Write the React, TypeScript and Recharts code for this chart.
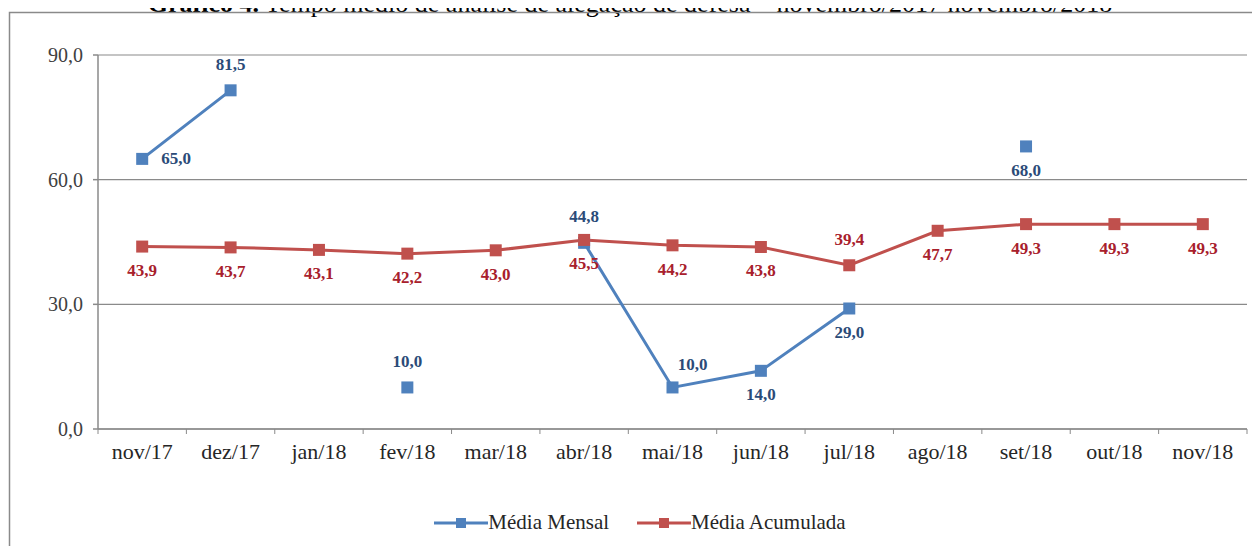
import React from 'react'
import { LineChart, Line, XAxis, YAxis, CartesianGrid, LabelList } from 'recharts'

const months = ['nov/17', 'dez/17', 'jan/18', 'fev/18', 'mar/18', 'abr/18', 'mai/18', 'jun/18', 'jul/18', 'ago/18', 'set/18', 'out/18', 'nov/18']
const mensal = [65.0, 81.5, null, 10.0, null, 44.8, 10.0, 14.0, 29.0, null, 68.0, null, null]
const acumulada = [43.9, 43.7, 43.1, 42.2, 43.0, 45.5, 44.2, 43.8, 39.4, 47.7, 49.3, 49.3, 49.3]
const yTicks = [0, 30, 60, 90]

// where each value label sits relative to its marker
const mensalPos = ['right', 'above', '', 'above', '', 'above', 'aboveRight', 'below', 'below', '', 'below', '', '']
const acumPos = ['below', 'below', 'below', 'below', 'below', 'below', 'below', 'below', 'above', 'below', 'below', 'below', 'below']

const data = months.map((m, i) => ({ month: m, mensal: mensal[i], acumulada: acumulada[i] }))

const FONT = '"Liberation Serif", "Times New Roman", Times, serif'
const BLUE = '#4F81BD'
const RED = '#C0504D'
const GRID = '#8a8a8a'
const W = 1260
const H = 554
const LEFT = 98
const RIGHT = 13
const BAND = (W - LEFT - RIGHT) / months.length

const fmt = (v: number) => v.toFixed(1).replace('.', ',')

const squareDot = (fill: string, size: number) => (props: any) => {
  const { cx, cy, value, index } = props
  if (value == null || cx == null || cy == null) return <g key={index} />
  return <rect key={index} x={cx - size / 2} y={cy - size / 2} width={size} height={size} fill={fill} />
}

const makeLabel = (pos: string[], color: string) => (props: any) => {
  const { x, y, value, index } = props
  if (value == null || !pos[index]) return null
  let dx = 0
  let dy = 0
  let anchor: 'start' | 'middle' = 'middle'
  switch (pos[index]) {
    case 'right': dx = 19; dy = 0; anchor = 'start'; break
    case 'above': dy = -26; break
    case 'aboveRight': dx = 20; dy = -23; break
    case 'below': dy = 24; break
  }
  return (
    <text x={x + dx} y={y + dy} textAnchor={anchor} dominantBaseline="central"
      fill={color} fontSize={17} fontWeight="bold" fontFamily={FONT}>
      {fmt(value)}
    </text>
  )
}

const XTick = (props: any) => {
  const { x, y, payload, index } = props
  return (
    <g>
      <line x1={x + BAND / 2} x2={x + BAND / 2} y1={y - 8} y2={y - 3} stroke={GRID} />
      {index === 0 && <line x1={x - BAND / 2} x2={x - BAND / 2} y1={y - 8} y2={y - 3} stroke={GRID} />}
      <text x={x} y={y + 22} textAnchor="middle" fill="#262626" fontSize={22} fontFamily={FONT}>{payload.value}</text>
    </g>
  )
}

const LegendItem = ({ color, label }: { color: string; label: string }) => (
  <div style={{ display: 'flex', alignItems: 'center' }}>
    <svg width={54} height={14}>
      <line x1={0} x2={54} y1={7} y2={7} stroke={color} strokeWidth={3} />
      <rect x={22} y={2} width={10} height={10} fill={color} />
    </svg>
    <span style={{ fontSize: 21, color: '#262626', fontFamily: FONT }}>{label}</span>
  </div>
)

export default function App() {
  return (
    <div style={{ position: 'relative', margin: -8, width: W, height: H, overflow: 'hidden', background: '#fff', fontFamily: FONT }}>
      <div style={{ position: 'absolute', left: 0, top: 0 }}>
        <LineChart width={W} height={H} data={data} margin={{ top: 55, right: RIGHT, bottom: 95, left: 10 }}>
          <CartesianGrid horizontal vertical={false} stroke={GRID} strokeWidth={1.2} />
          <XAxis dataKey="month" height={30} stroke={GRID} strokeWidth={1.5} tickLine={false} tick={<XTick />}
            interval={0} padding={{ left: BAND / 2, right: BAND / 2 }} />
          <YAxis width={88} domain={[0, 90]} ticks={yTicks} stroke={GRID} strokeWidth={1.5}
            tickSize={5} tickMargin={10} tickFormatter={fmt}
            tick={{ fill: '#404040', fontSize: 20, fontFamily: FONT }} />
          <Line dataKey="mensal" stroke={BLUE} strokeWidth={3} isAnimationActive={false}
            connectNulls={false} dot={squareDot(BLUE, 12)} activeDot={false}>
            <LabelList dataKey="mensal" content={makeLabel(mensalPos, '#2B4B78')} />
          </Line>
          <Line dataKey="acumulada" stroke={RED} strokeWidth={3} isAnimationActive={false}
            dot={squareDot(RED, 12)} activeDot={false}>
            <LabelList dataKey="acumulada" content={makeLabel(acumPos, '#A8202C')} />
          </Line>
        </LineChart>
      </div>
      <svg width={W} height={40} style={{ position: 'absolute', left: 0, top: 0, zIndex: 5, overflow: 'visible' }}>
        <text x={W / 2} y={12} textAnchor="middle" fontSize={26} fontFamily={FONT} fill="#000">
          <tspan fontWeight="bold">Gráfico 4.</tspan> Tempo médio de análise de alegação de defesa – novembro/2017 novembro/2018
        </text>
        <rect x={9.5} y={12.5} width={W} height={H} fill="none" stroke={GRID} strokeWidth={1.5} />
      </svg>
      <div style={{ position: 'absolute', top: 510, left: 0, width: W, display: 'flex', justifyContent: 'center', gap: 28, paddingLeft: 20, boxSizing: 'border-box' }}>
        <LegendItem color={BLUE} label="Média Mensal" />
        <LegendItem color={RED} label="Média Acumulada" />
      </div>
    </div>
  )
}
